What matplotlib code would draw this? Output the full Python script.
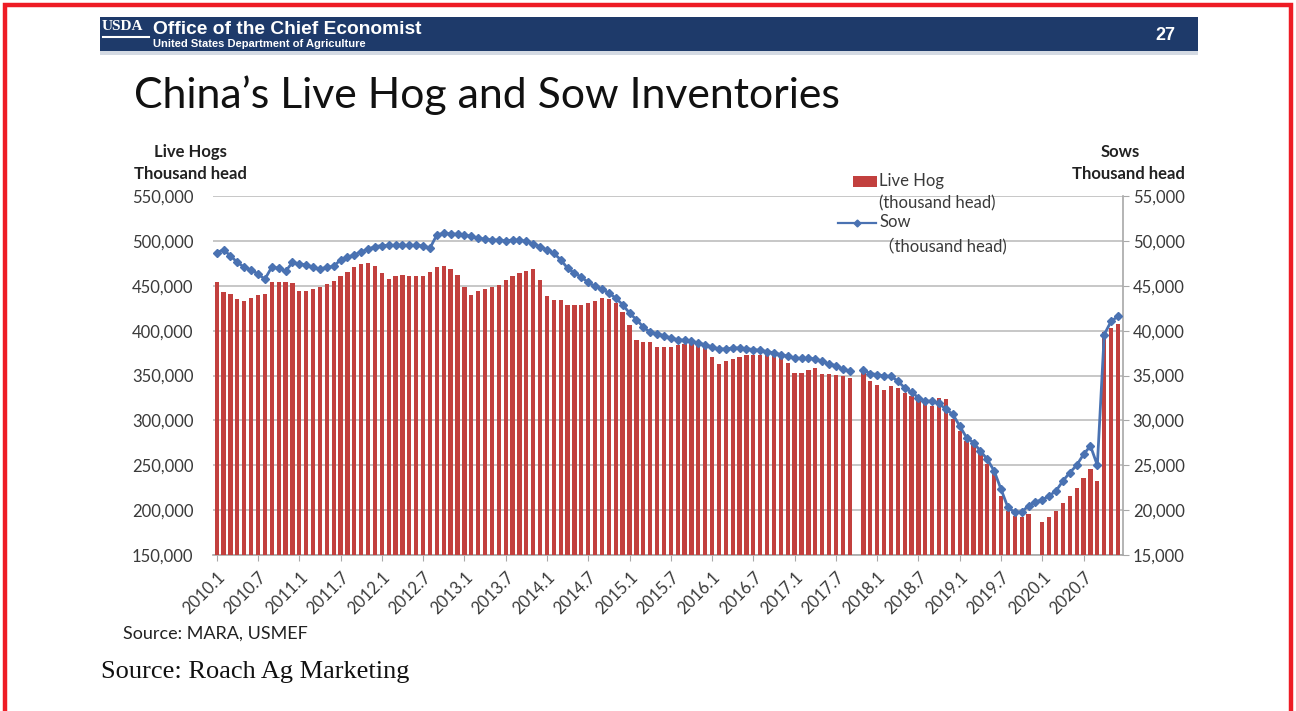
import numpy as np
import matplotlib
matplotlib.use("Agg")
import matplotlib.pyplot as plt
from matplotlib.patches import Rectangle
from matplotlib.lines import Line2D
from matplotlib.ticker import FuncFormatter, FixedLocator

# ---------------- data ----------------
years = list(range(2010, 2021))
months = [f"{y}.{m}" for y in years for m in range(1, 13)]   # 2010.1 .. 2020.12

nan = np.nan
live_hog = [  # thousand head
    454100, 442600, 440700, 435600, 433300, 436300, 439300, 441100, 454000, 454000, 454000, 453000,
    444400, 443700, 446700, 448500, 451800, 455600, 460400, 464800, 470400, 474100, 475200, 472200,
    464100, 457800, 460400, 462200, 460400, 461100, 461100, 465200, 471100, 471900, 468500, 462200,
    448500, 440000, 443700, 446700, 448100, 451100, 456700, 460400, 464100, 466700, 468500, 456700,
    438100, 434100, 434100, 428100, 428100, 428900, 430400, 433300, 436300, 435600, 430700, 420700,
    405900, 389600, 387400, 387400, 382200, 381500, 381500, 383700, 385200, 387400, 384400, 380700,
    370400, 363000, 366700, 368900, 370400, 372600, 372600, 373300, 372600, 372600, 370400, 364100,
    353300, 353300, 356300, 357800, 351900, 351900, 350400, 349300, 347400, nan, 353000, 343700,
    339300, 333700, 338100, 336300, 330700, 327000, 323300, 317800, 315900, 324400, 323300, 301100,
    288100, 277000, 273300, 268000, 251800, 240700, 215900, 198500, 193700, 191800, 195500, nan,
    187000, 191800, 198500, 207400, 215900, 225200, 235500, 246300, 232600, 398500, 403000, 407400,
]
sow = [  # thousand head
    48700, 49000, 48330, 47600, 47070, 46780, 46300, 45740, 47070, 46960, 46600, 47600,
    47440, 47330, 47070, 46850, 47070, 47150, 47900, 48190, 48440, 48800, 49070, 49370,
    49480, 49500, 49500, 49500, 49500, 49500, 49450, 49200, 50670, 50850, 50800, 50740,
    50670, 50500, 50300, 50200, 50100, 50100, 50000, 50100, 50080, 49950, 49670, 49370,
    49000, 48630, 47890, 46960, 46400, 45960, 45370, 44930, 44630, 44180, 43630, 42890,
    41960, 41220, 40410, 39810, 39670, 39440, 39180, 39000, 38930, 38810, 38630, 38440,
    38180, 37960, 37960, 38070, 38070, 38000, 37890, 37810, 37670, 37520, 37330, 37150,
    36960, 36900, 36900, 36870, 36570, 36300, 36110, 35740, 35480, nan, 35590, 35220,
    35110, 34930, 34930, 34370, 33630, 33150, 32520, 32150, 32150, 31890, 31220, 30670,
    29370, 28070, 27520, 26590, 25670, 24370, 22330, 20300, 19740, 19810, 20480, 20930,
    21150, 21590, 22150, 23260, 24180, 25000, 26220, 27150, 25000, 39560, 41040, 41590,
]
tick_labels = [m for m in months if m.endswith(".1") or m.endswith(".7")]  # 2010.1 .. 2020.7
left_ticks = list(range(150000, 550001, 50000))
right_ticks = list(range(15000, 55001, 5000))

# ---------------- figure ----------------
W, H = 1296, 711
fig = plt.figure(figsize=(W / 100, H / 100), dpi=100)
fig.patch.set_facecolor("white")

def fx(x):
    return x / W

def fy(y):
    return 1 - y / H

SANS = ["Lato", "Noto Sans CJK SC", "DejaVu Sans"]
TXT = "#3a3a3a"
RED = "#C2403E"
BLUE = "#4A72B2"

# red frame
fig.patches.append(Rectangle((fx(5), fy(720)), fx(1286), 715 / H, transform=fig.transFigure,
                             fill=False, edgecolor="#EE1C25", linewidth=3.2, zorder=10))
# header band
fig.patches.append(Rectangle((fx(100), fy(51)), fx(1098), 34 / H, transform=fig.transFigure,
                             facecolor="#1E3A6A", edgecolor="none", zorder=1))
fig.patches.append(Rectangle((fx(100), fy(55)), fx(1098), 4 / H, transform=fig.transFigure,
                             facecolor="#D4DAE3", edgecolor="none", zorder=1))
fig.text(fx(102), fy(27), "USDA", color="white", fontsize=11, fontweight="bold",
         family="Liberation Serif", va="center", ha="left")
fig.lines.append(Line2D([fx(103), fx(149)], [fy(37), fy(37)], transform=fig.transFigure,
                        color="white", lw=1.5))
fig.text(fx(153), fy(29), "Office of the Chief Economist", color="white", fontsize=13.8,
         fontweight="bold", family="Liberation Sans", va="center", ha="left")
fig.text(fx(153), fy(44), "United States Department of Agriculture", color="white", fontsize=8,
         fontweight="bold", family="Liberation Sans", va="center", ha="left")
fig.text(fx(1165), fy(35), "27", color="white", fontsize=13, fontweight="bold",
         family="Liberation Sans", va="center", ha="center")

# title
fig.text(fx(134), fy(95), "China\u2019s Live Hog and Sow Inventories", fontsize=30.8,
         family=SANS, color="#111111", va="center", ha="left")

# ---------------- axes ----------------
ax = fig.add_axes([fx(213), fy(555), fx(1123 - 213), (555 - 196) / H])
x = np.arange(len(months))
ax.bar(x, live_hog, width=0.62, color=RED, edgecolor="none", zorder=3)
ax.set_xlim(-0.54, 131.73)
ax.set_ylim(150000, 550000)
ax.set_yticks(left_ticks)
ax.yaxis.set_major_formatter(FuncFormatter(lambda v, p: f"{int(v):,}"))
ax.grid(axis="y", color="#BDBDBD", linewidth=1.2, zorder=0)
ax.set_axisbelow(True)
for s in ["top", "left", "right"]:
    ax.spines[s].set_visible(False)
ax.spines["bottom"].set_color("#A8A8A8")
ax.spines["bottom"].set_linewidth(1.2)
ax.tick_params(axis="y", length=0, pad=14, labelsize=12, labelcolor=TXT)
tick_pos = [months.index(t) for t in tick_labels]
ax.xaxis.set_major_locator(FixedLocator(tick_pos))
ax.set_xticklabels(tick_labels, rotation=45, ha="right", va="top", rotation_mode="anchor",
                   fontsize=12, color=TXT, family=SANS)
ax.tick_params(axis="x", length=4, color="#A8A8A8", pad=6)
for lab in ax.get_yticklabels():
    lab.set_family(SANS)

ax2 = ax.twinx()
ax2.plot(x, sow, color=BLUE, lw=2, marker="D", markersize=4.2, zorder=5)
ax2.set_ylim(15000, 55000)
ax2.set_yticks(right_ticks)
ax2.yaxis.set_major_formatter(FuncFormatter(lambda v, p: f"{int(v):,}"))
for s in ["top", "left", "bottom"]:
    ax2.spines[s].set_visible(False)
ax2.spines["right"].set_color("#A8A8A8")
ax2.spines["right"].set_linewidth(1.2)
ax2.tick_params(axis="y", length=4, color="#A8A8A8", pad=3, labelsize=12, labelcolor=TXT)
for lab in ax2.get_yticklabels():
    lab.set_family(SANS)

# axis titles
for (xx, yy, s) in [(190, 152, "Live Hogs"), (190, 174, "Thousand head"),
                    (1120, 152, "Sows"), (1128, 174, "Thousand head")]:
    fig.text(fx(xx), fy(yy), s, fontsize=12, fontweight="bold", family=SANS,
             color="#222222", ha="center", va="center")

# legend (manual, as in the original layout)
fig.patches.append(Rectangle((fx(853), fy(187)), fx(24), 11 / H, transform=fig.transFigure,
                             facecolor=RED, edgecolor="none", zorder=6))
fig.text(fx(879), fy(181), "Live Hog", fontsize=12, family=SANS, color=TXT, va="center", ha="left")
fig.text(fx(879), fy(203), "(thousand head)", fontsize=12, family=SANS, color=TXT,
         va="center", ha="left")
fig.lines.append(Line2D([fx(838), fx(876)], [fy(223), fy(223)], transform=fig.transFigure,
                        color=BLUE, lw=1.6, zorder=6))
fig.lines.append(Line2D([fx(857)], [fy(223)], transform=fig.transFigure,
                        color=BLUE, marker="D", markersize=3.5, linestyle="none", zorder=6))
fig.text(fx(879), fy(222), "Sow", fontsize=12, family=SANS, color=TXT, va="center", ha="left")
fig.text(fx(878), fy(246), "\uff08thousand head)", fontsize=12, family=SANS, color=TXT,
         va="center", ha="left")

# sources
fig.text(fx(123), fy(634), "Source: MARA, USMEF", fontsize=13, family=SANS, color="#222222",
         va="center", ha="left")
fig.text(fx(101), fy(672), "Source: Roach Ag Marketing", fontsize=19, family="Liberation Serif",
         color="#111111", va="center", ha="left")

fig.savefig("out.png", dpi=100)
